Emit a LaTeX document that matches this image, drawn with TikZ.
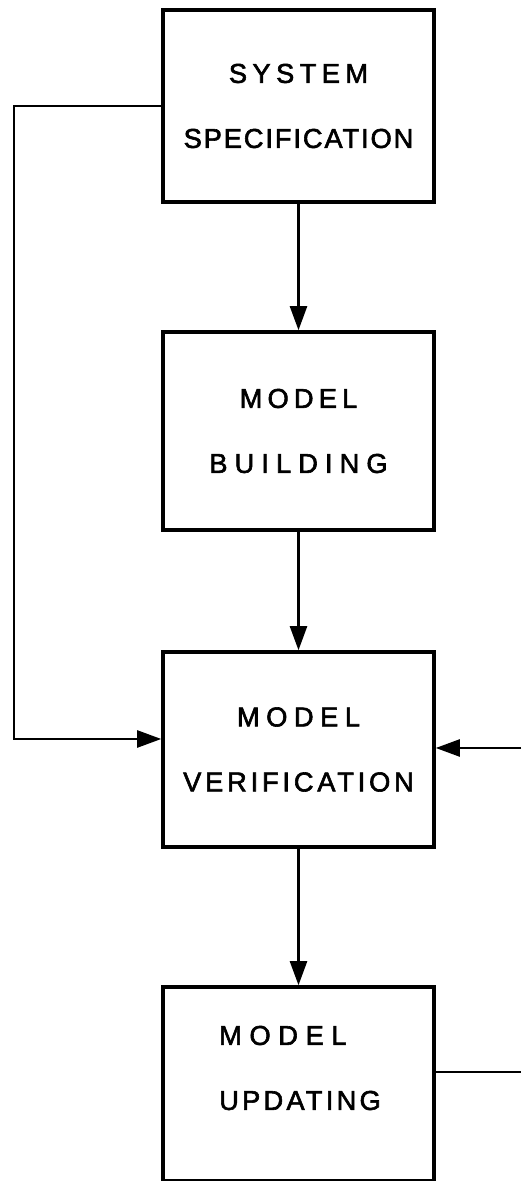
\documentclass[tikz,border=0pt]{standalone}
\usepackage{fontspec}
\setmainfont[FakeBold=2.2]{Liberation Sans}
\usetikzlibrary{arrows.meta}
\newcommand{\spaced}[2]{{\addfontfeature{LetterSpace=#1}#2}}

\begin{document}
\begin{tikzpicture}[
    block/.style={draw, line width=2pt, minimum width=5.42cm, align=center,
      font=\fontsize{15.5pt}{37pt}\selectfont},
    flow/.style={-{Triangle[length=0.48cm,width=0.34cm]}, line width=1.3pt}
  ]
  \useasboundingbox (0,0) rectangle (10.42,23.62);
  % main chain of blocks
  \node[block, minimum height=3.84cm] (spec) at (5.97,21.5) {\spaced{20}{SYSTEM}\\\spaced{7}{SPECIFICATION}};
  \node[block, minimum height=3.96cm] (build) at (5.97,15.0) {\spaced{19}{MODEL}\\\spaced{26}{BUILDING}};
  \node[block, minimum height=3.9cm] (verif) at (5.97,8.63) {\spaced{24}{MODEL}\\\spaced{14}{VERIFICATION}};
  \node[block, minimum height=3.88cm] (upd) at (5.97,1.94) {};
  \node[align=left, font=\fontsize{15.5pt}{37pt}\selectfont] (updtext) at (6.0,2.26) {\spaced{28}{MODEL}\\\spaced{12}{UPDATING}};

  \draw[flow] (spec) -- (build);
  \draw[flow] (build) -- (verif);
  \draw[flow] (verif) -- (upd);

  % feedback lines
  \coordinate (loopL) at (0.28,8.84);
  \draw[flow] (spec.west) -| (loopL) -- (loopL -| verif.west);
  \coordinate (inR) at (10.42,8.66);
  \draw[flow] (inR) -- (inR -| verif.east);
  \coordinate (outR) at (10.42,2.18);
  \draw[line width=1.3pt] (outR -| upd.east) -- (outR);
\end{tikzpicture}
\end{document}
